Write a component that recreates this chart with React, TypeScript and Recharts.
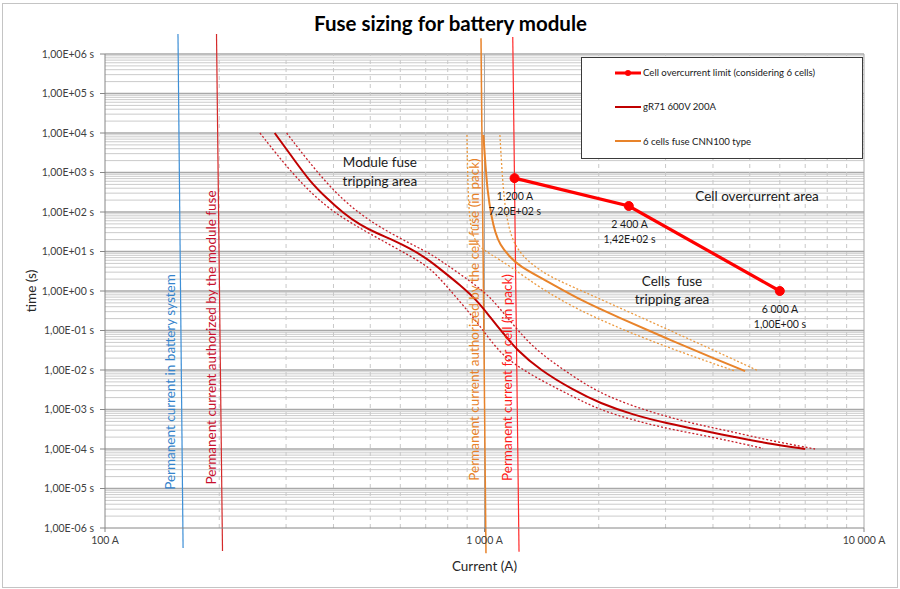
import React from "react";
import { LineChart, Line, XAxis, YAxis, ReferenceLine, ReferenceDot } from "recharts";

const FONT = "Lato, 'Open Sans', sans-serif";

// axis ticks
const currentTicks = [100, 1000, 10000];
const timeTicks = [1e-6, 1e-5, 1e-4, 1e-3, 1e-2, 1e-1, 1, 10, 100, 1e3, 1e4, 1e5, 1e6];

// Cell overcurrent limit (considering 6 cells)
const cellLimitCurrent = [1200, 2400, 6000];
const cellLimitTime = [720, 142, 1];

// gR71 600V 200A - nominal curve and min / max band
const gr71Current = [280, 313, 347, 384, 425, 470, 520, 575, 636, 704, 779, 862, 954, 1034, 1121, 1216, 1400, 1714, 2015, 2467, 3020, 3700, 4525, 5540, 7000];
const gr71Time = [10000, 2290, 585, 222, 93, 47, 29, 19.5, 12, 6.7, 3.1, 1.42, 0.59, 0.22, 0.085, 0.032, 0.01, 0.0031, 0.00144, 0.00073, 0.00045, 0.0003, 0.000205, 0.000139, 0.0001];
const gr71MaxCurrent = [301, 384, 470, 575, 704, 763, 934, 1034, 1144, 1266, 1400, 1714, 2015, 2467, 3020, 3700, 4525, 5540, 7430];
const gr71MaxTime = [10000, 483, 84, 26, 9.9, 6.1, 1.57, 0.72, 0.22, 0.07, 0.0265, 0.0068, 0.0026, 0.0012, 0.00066, 0.0004, 0.00027, 0.00017, 0.0001];
const gr71MinCurrent = [256, 313, 384, 470, 575, 704, 763, 934, 1034, 1144, 1400, 1714, 2015, 2467, 3020, 3700, 4525, 5420];
const gr71MinTime = [10000, 865, 124, 38.7, 13.2, 4.55, 2.1, 0.22, 0.0575, 0.018, 0.0056, 0.0021, 0.00097, 0.00054, 0.00033, 0.00023, 0.000153, 0.000104];

// 6 cells fuse CNN100 type - nominal curve and min / max band
const cnnCurrent = [993, 1003, 1018, 1045, 1066, 1098, 1160, 1240, 1444, 1785, 2275, 3000, 4000, 4860];
const cnnTime = [8900, 2290, 327, 69, 31.7, 14.6, 7.7, 4.1, 1.9, 0.59, 0.207, 0.0646, 0.0201, 0.0094];
const cnnMaxCurrent = [1098, 1119, 1147, 1196, 1302, 1488, 1785, 2570, 3700, 5256];
const cnnMaxTime = [8900, 360, 56, 14.6, 5.4, 2.26, 1.06, 0.22, 0.0455, 0.0096];
const cnnMinCurrent = [899, 905, 921, 961, 1034, 1167, 1400, 1785, 2570, 3700, 4570];
const cnnMinTime = [8900, 201, 31, 13.8, 8.6, 4.3, 1.19, 0.31, 0.068, 0.019, 0.0094];

// permanent current markers (drawn slightly past the plot edges)
const markerLabels = [
  "Permanent current in battery system",
  "Permanent current authorized by the module fuse",
  "Permanent current authorized by the cell fuse (in pack)",
  "Permanent current for cell (in pack)",
];
const markerTopCurrent = [155.7, 196.7, 979, 1187];
const markerBottomCurrent = [160.6, 204, 1009, 1233];
const markerTopTime = [3.2e6, 3.2e6, 2.5e6, 2.7e6];
const markerBottomTime = [3.1e-7, 2.6e-7, 2.3e-7, 2.5e-7];
const markerLabelCurrent = [148.4, 190.2, 938, 1147];
const markerLabelTime = [0.00497, 0.0665, 0.19, 0.00646];
const markerColors = ["#3d8fd6", "#d42a2a", "#e8832a", "#ff2a2a"];
const markerTextColors = ["#3584cc", "#c8102e", "#e8832a", "#ff1a1a"];

// area / point annotations
const noteLines = [
  ["Module fuse", "tripping area"],
  ["1 200 A", "7,20E+02 s"],
  ["2 400 A", "1,42E+02 s"],
  ["Cell overcurrent area"],
  ["Cells  fuse", "tripping area"],
  ["6 000 A", "1,00E+00 s"],
];
const noteCurrent = [530, 1203, 2411, 5225, 3120, 6006];
const noteTime = [1060, 164, 32.1, 254, 1.06, 0.226];
const noteBig = [true, false, false, true, true, false];

const zip = (xs: number[], ys: number[]) => xs.map((x, i) => ({ x, y: ys[i] }));

const minorSteps = [2, 3, 4, 5, 6, 7, 8, 9];
const minorTimes = [-6, -5, -4, -3, -2, -1, 0, 1, 2, 3, 4, 5].flatMap((e) => minorSteps.map((m) => m * Math.pow(10, e)));
const minorCurrents = [2, 3].flatMap((e) => minorSteps.map((m) => m * Math.pow(10, e)));

const formatTime = (v: number) => {
  const e = Math.round(Math.log10(v));
  return `1,00E${e < 0 ? "-" : "+"}${String(Math.abs(e)).padStart(2, "0")} s`;
};
const formatCurrent = (v: number) => `${String(v).replace(/\B(?=(\d{3})+(?!\d))/g, " ")} A`;

const NoteText = (props: any) => {
  const { cx, cy, lines, size, lineHeight, color, rotate } = props;
  const n = lines.length;
  return (
    <text
      x={cx}
      y={cy}
      textAnchor="middle"
      dominantBaseline="central"
      fontFamily={FONT}
      fontSize={size}
      fill={color}
      transform={rotate ? `rotate(-90 ${cx} ${cy})` : undefined}
    >
      {lines.map((l: string, i: number) => (
        <tspan key={i} x={cx} dy={i === 0 ? (-(n - 1) * lineHeight) / 2 : lineHeight} style={{ whiteSpace: "pre" }}>
          {l}
        </tspan>
      ))}
    </text>
  );
};

const legendItems = [
  { label: "Cell overcurrent limit (considering 6 cells)", color: "#ff0000", width: 3, dot: true },
  { label: "gR71 600V 200A", color: "#c00000", width: 2, dot: false },
  { label: "6 cells fuse CNN100 type", color: "#e8832a", width: 2, dot: false },
];

export default function App() {
  return (
    <div style={{ position: "absolute", left: 0, top: 0, width: 900, height: 589, background: "#fff", fontFamily: FONT }}>
      <div
        style={{
          position: "absolute",
          left: 2,
          top: 3,
          width: 896,
          height: 585,
          border: "1px solid #c4c4c4",
          boxSizing: "border-box",
        }}
      />
      <div
        style={{
          position: "absolute",
          left: 0,
          top: 11,
          width: 901,
          textAlign: "center",
          fontWeight: 700,
          fontSize: 20.5,
          color: "#000",
        }}
      >
        Fuse sizing for battery module
      </div>
      <div style={{ position: "absolute", left: 0, top: 0 }}>
        <LineChart width={900} height={589} margin={{ top: 54, right: 36, left: 5, bottom: 11 }}>
          <XAxis
            dataKey="x"
            type="number"
            scale="log"
            domain={[100, 10000]}
            ticks={currentTicks}
            allowDataOverflow
            height={50}
            tickFormatter={formatCurrent}
            tick={{ fontSize: 10.5, fill: "#404040", fontFamily: FONT }}
            tickSize={4}
            tickMargin={5}
            stroke="#868686"
            label={{ value: "Current (A)", position: "insideBottom", offset: 7, fontSize: 13.5, fill: "#262626", fontFamily: FONT }}
          />
          <YAxis
            type="number"
            scale="log"
            domain={[1e-6, 1e6]}
            ticks={timeTicks}
            allowDataOverflow
            width={100}
            tickFormatter={formatTime}
            tick={{ fontSize: 10.5, fill: "#404040", fontFamily: FONT }}
            tickSize={5}
            tickMargin={6}
            stroke="#868686"
            label={{ value: "time (s)", angle: -90, position: "insideLeft", offset: 26, fontSize: 13.5, fill: "#262626", fontFamily: FONT, style: { textAnchor: "middle" } }}
          />

          {minorTimes.map((v) => (
            <ReferenceLine key={`h${v}`} y={v} stroke="#cbcbcb" strokeWidth={1} />
          ))}
          {timeTicks.slice(1).map((v) => (
            <ReferenceLine key={`H${v}`} y={v} stroke="#a8a8a8" strokeWidth={1.5} />
          ))}
          {minorCurrents.map((v) => (
            <ReferenceLine key={`v${v}`} x={v} stroke="#c8c8c8" strokeDasharray="4 4" />
          ))}
          <ReferenceLine x={1000} stroke="#a8a8a8" />
          <ReferenceLine x={10000} stroke="#a8a8a8" />

          {markerLabels.map((label, i) => (
            <ReferenceLine
              key={label}
              segment={[
                { x: markerTopCurrent[i], y: markerTopTime[i] },
                { x: markerBottomCurrent[i], y: markerBottomTime[i] },
              ]}
              ifOverflow="visible"
              stroke={markerColors[i]}
              strokeWidth={i === 2 ? 1.5 : 1.2}
            />
          ))}

          <Line data={zip(gr71MaxCurrent, gr71MaxTime)} dataKey="y" type="basis" stroke="#c8202a" strokeWidth={1.3} strokeDasharray="2 2" dot={false} isAnimationActive={false} />
          <Line data={zip(gr71MinCurrent, gr71MinTime)} dataKey="y" type="basis" stroke="#c8202a" strokeWidth={1.3} strokeDasharray="2 2" dot={false} isAnimationActive={false} />
          <Line data={zip(gr71Current, gr71Time)} dataKey="y" type="basis" stroke="#c00000" strokeWidth={2} dot={false} isAnimationActive={false} />
          <Line data={zip(cnnMaxCurrent, cnnMaxTime)} dataKey="y" type="basis" stroke="#ec9a40" strokeWidth={1.3} strokeDasharray="2 2" dot={false} isAnimationActive={false} />
          <Line data={zip(cnnMinCurrent, cnnMinTime)} dataKey="y" type="basis" stroke="#ec9a40" strokeWidth={1.3} strokeDasharray="2 2" dot={false} isAnimationActive={false} />
          <Line data={zip(cnnCurrent, cnnTime)} dataKey="y" type="basis" stroke="#e8832a" strokeWidth={2} dot={false} isAnimationActive={false} />
          <Line
            data={zip(cellLimitCurrent, cellLimitTime)}
            dataKey="y"
            type="linear"
            stroke="#ff0000"
            strokeWidth={3.2}
            dot={{ r: 4.5, fill: "#ff0000", stroke: "#ff0000", strokeWidth: 1 }}
            isAnimationActive={false}
          />

          {markerLabels.map((label, i) => (
            <ReferenceDot
              key={`t${i}`}
              x={markerLabelCurrent[i]}
              y={markerLabelTime[i]}
              r={0}
              ifOverflow="visible"
              shape={(p: any) => (
                <NoteText cx={p.cx} cy={p.cy} lines={[label]} size={13.5} lineHeight={0} color={markerTextColors[i]} rotate />
              )}
            />
          ))}
          {noteLines.map((lines, i) => (
            <ReferenceDot
              key={`n${i}`}
              x={noteCurrent[i]}
              y={noteTime[i]}
              r={0}
              ifOverflow="visible"
              shape={(p: any) => (
                <NoteText
                  cx={p.cx}
                  cy={p.cy}
                  lines={lines}
                  size={noteBig[i] ? 13.5 : 10.5}
                  lineHeight={noteBig[i] ? 18.5 : 15}
                  color="#1a1a1a"
                />
              )}
            />
          ))}
        </LineChart>
      </div>

      <div
        style={{
          position: "absolute",
          left: 581,
          top: 57,
          width: 282,
          height: 102,
          border: "1px solid #3a3a3a",
          background: "#fff",
          boxSizing: "border-box",
        }}
      >
        {legendItems.map((item, i) => (
          <div key={item.label} style={{ position: "absolute", left: 33, top: 14.5 + i * 34.3 - 8, height: 16, display: "flex", alignItems: "center" }}>
            <svg width={27} height={16}>
              <line x1={0} y1={8} x2={26} y2={8} stroke={item.color} strokeWidth={item.width} />
              {item.dot && <circle cx={13} cy={8} r={3} fill={item.color} />}
            </svg>
            <span style={{ fontSize: 9.6, color: "#1a1a1a", marginLeft: 1, whiteSpace: "nowrap" }}>{item.label}</span>
          </div>
        ))}
      </div>
    </div>
  );
}
